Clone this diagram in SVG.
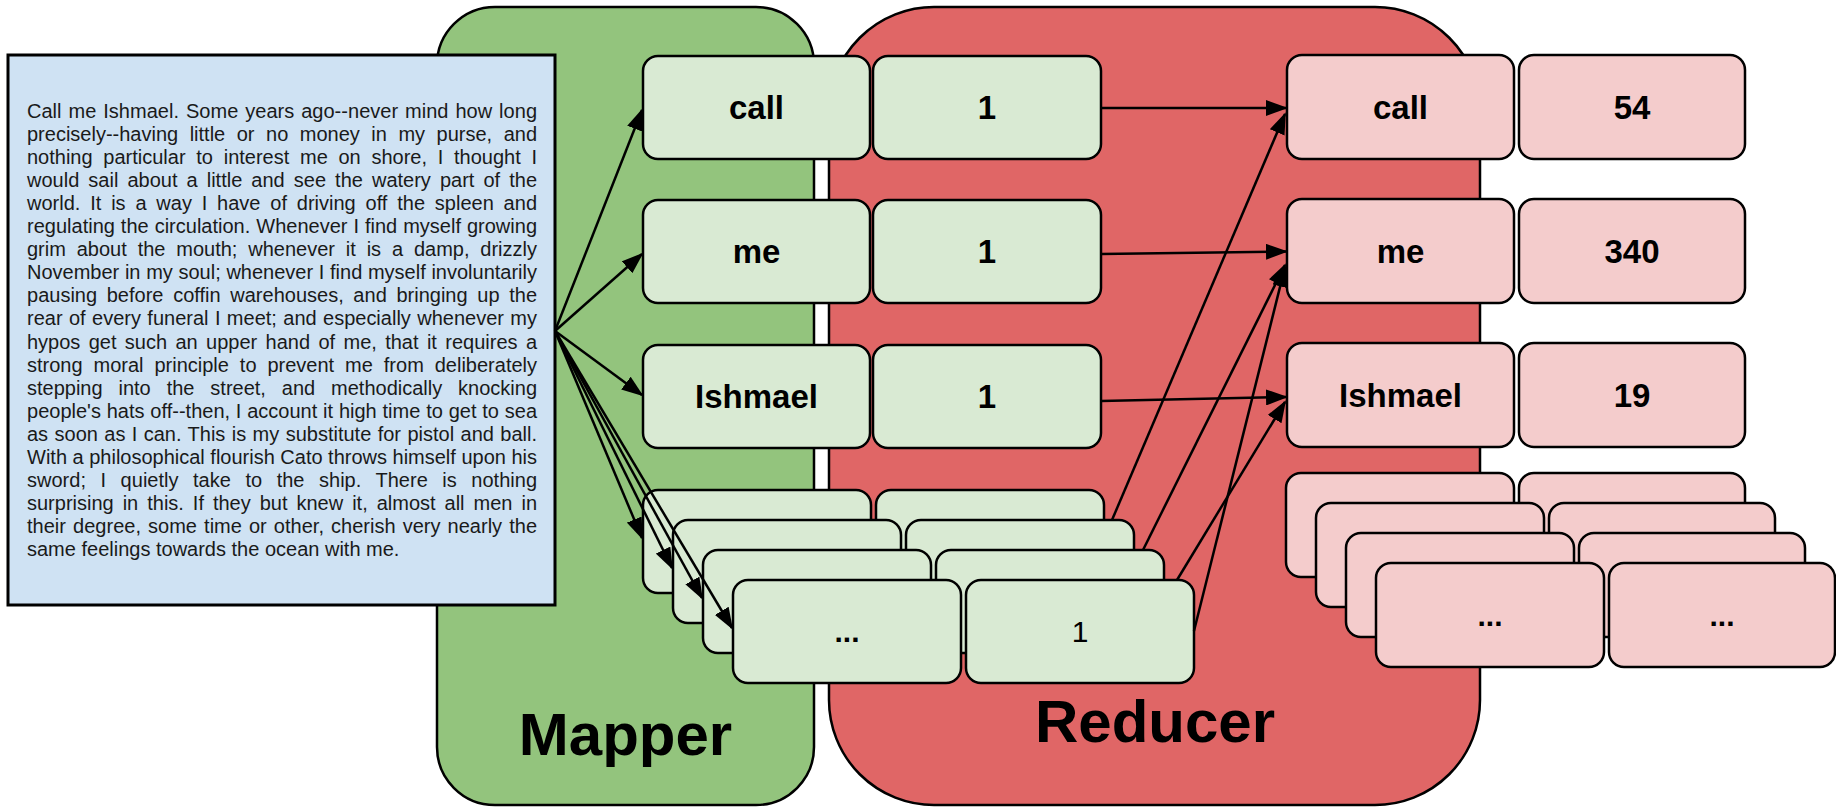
<svg xmlns="http://www.w3.org/2000/svg" width="1836" height="808" viewBox="0 0 1836 808">
<defs>
<style>
.cont{stroke:#000;stroke-width:2.5}
.g{fill:#d9ead3;stroke:#000;stroke-width:2.5}
.p{fill:#f4cccc;stroke:#000;stroke-width:2.5}
.k{font-family:"Liberation Sans",Arial,sans-serif;font-weight:bold;font-size:33px;fill:#000;text-anchor:middle}
.s{font-family:"Liberation Sans",Arial,sans-serif;font-size:30px;fill:#000;text-anchor:middle}
.sb{font-family:"Liberation Sans",Arial,sans-serif;font-weight:bold;font-size:30px;fill:#000;text-anchor:middle}
.big{font-family:"Liberation Sans",Arial,sans-serif;font-weight:bold;font-size:60px;fill:#000;text-anchor:middle}
.t{font-family:"Liberation Sans",Arial,sans-serif;font-size:20px;fill:#1a1a1a}
.c{stroke:#000;stroke-width:2.5;fill:none;marker-end:url(#ah)}
</style>
<marker id="ah" markerUnits="userSpaceOnUse" markerWidth="22" markerHeight="16" refX="20" refY="8" orient="auto">
<path d="M0,0 L22,8 L0,16 z" fill="#000"/>
</marker>
</defs>
<rect width="1836" height="808" fill="#fff"/>

<g id="mapper">
<rect class="cont" x="437" y="7" width="377" height="798" rx="58" fill="#93c47d"/>
<text class="big" x="625.5" y="755">Mapper</text>
</g>
<g id="reducer">
<rect class="cont" x="829" y="7" width="651" height="798" rx="105" fill="#e06666"/>
<text class="big" x="1155" y="742">Reducer</text>
</g>

<g id="input-text">
<rect x="8" y="55" width="547" height="550" fill="#cfe2f3" stroke="#000" stroke-width="3"/>
<text class="t" x="27" y="118" word-spacing="1.34" textLength="510" lengthAdjust="spacing">Call me Ishmael. Some years ago--never mind how long</text>
<text class="t" x="27" y="141.05" word-spacing="5.95" textLength="510" lengthAdjust="spacing">precisely--having little or no money in my purse, and</text>
<text class="t" x="27" y="164.1" word-spacing="5.16" textLength="510" lengthAdjust="spacing">nothing particular to interest me on shore, I thought I</text>
<text class="t" x="27" y="187.15" word-spacing="3.51" textLength="510" lengthAdjust="spacing">would sail about a little and see the watery part of the</text>
<text class="t" x="27" y="210.2" word-spacing="4.24" textLength="510" lengthAdjust="spacing">world. It is a way I have of driving off the spleen and</text>
<text class="t" x="27" y="233.25" word-spacing="0.39" textLength="510" lengthAdjust="spacing">regulating the circulation. Whenever I find myself growing</text>
<text class="t" x="27" y="256.3" word-spacing="5.29" textLength="510" lengthAdjust="spacing">grim about the mouth; whenever it is a damp, drizzly</text>
<text class="t" x="27" y="279.35" word-spacing="0.12" textLength="510" lengthAdjust="spacing">November in my soul; whenever I find myself involuntarily</text>
<text class="t" x="27" y="302.4" word-spacing="4.09" textLength="510" lengthAdjust="spacing">pausing before coffin warehouses, and bringing up the</text>
<text class="t" x="27" y="325.45" word-spacing="0.84" textLength="510" lengthAdjust="spacing">rear of every funeral I meet; and especially whenever my</text>
<text class="t" x="27" y="348.5" word-spacing="2.8" textLength="510" lengthAdjust="spacing">hypos get such an upper hand of me, that it requires a</text>
<text class="t" x="27" y="371.55" word-spacing="5.37" textLength="510" lengthAdjust="spacing">strong moral principle to prevent me from deliberately</text>
<text class="t" x="27" y="394.6" word-spacing="10.34" textLength="510" lengthAdjust="spacing">stepping into the street, and methodically knocking</text>
<text class="t" x="27" y="417.65" word-spacing="0.23" textLength="510" lengthAdjust="spacing">people's hats off--then, I account it high time to get to sea</text>
<text class="t" x="27" y="440.7" word-spacing="0.82" textLength="510" lengthAdjust="spacing">as soon as I can. This is my substitute for pistol and ball.</text>
<text class="t" x="27" y="463.75" word-spacing="0" textLength="510" lengthAdjust="spacing">With a philosophical flourish Cato throws himself upon his</text>
<text class="t" x="27" y="486.8" word-spacing="8.99" textLength="510" lengthAdjust="spacing">sword; I quietly take to the ship. There is nothing</text>
<text class="t" x="27" y="509.85" word-spacing="3.42" textLength="510" lengthAdjust="spacing">surprising in this. If they but knew it, almost all men in</text>
<text class="t" x="27" y="532.9" word-spacing="1.46" textLength="510" lengthAdjust="spacing">their degree, some time or other, cherish very nearly the</text>
<text class="t" x="27" y="555.95">same feelings towards the ocean with me.</text>
</g>

<g id="map-call">
<rect class="g" x="643" y="56" width="227" height="103" rx="15"/>
<text class="k" x="756.5" y="119">call</text>
<rect class="g" x="873" y="56" width="228" height="103" rx="15"/>
<text class="k" x="987" y="119">1</text>
</g>
<g id="map-me">
<rect class="g" x="643" y="200" width="227" height="103" rx="15"/>
<text class="k" x="756.5" y="263">me</text>
<rect class="g" x="873" y="200" width="228" height="103" rx="15"/>
<text class="k" x="987" y="263">1</text>
</g>
<g id="map-ishmael">
<rect class="g" x="643" y="345" width="227" height="103" rx="15"/>
<text class="k" x="756.5" y="408">Ishmael</text>
<rect class="g" x="873" y="345" width="228" height="103" rx="15"/>
<text class="k" x="987" y="408">1</text>
</g>
<g id="map-more">
<rect class="g" x="643" y="490" width="228" height="103" rx="15"/>
<rect class="g" x="876" y="490" width="228" height="103" rx="15"/>
<rect class="g" x="673" y="520" width="228" height="103" rx="15"/>
<rect class="g" x="906" y="520" width="228" height="103" rx="15"/>
<rect class="g" x="703" y="550" width="228" height="103" rx="15"/>
<rect class="g" x="936" y="550" width="228" height="103" rx="15"/>
<rect class="g" x="733" y="580" width="228" height="103" rx="15"/>
<rect class="g" x="966" y="580" width="228" height="103" rx="15"/>
<text class="sb" x="847" y="642">...</text>
<text class="s" x="1080" y="642">1</text>
</g>

<g id="red-call">
<rect class="p" x="1287" y="55" width="227" height="104" rx="15"/>
<text class="k" x="1400.5" y="119">call</text>
<rect class="p" x="1519" y="55" width="226" height="104" rx="15"/>
<text class="k" x="1632" y="119">54</text>
</g>
<g id="red-me">
<rect class="p" x="1287" y="199" width="227" height="104" rx="15"/>
<text class="k" x="1400.5" y="263">me</text>
<rect class="p" x="1519" y="199" width="226" height="104" rx="15"/>
<text class="k" x="1632" y="263">340</text>
</g>
<g id="red-ishmael">
<rect class="p" x="1287" y="343" width="227" height="104" rx="15"/>
<text class="k" x="1400.5" y="407">Ishmael</text>
<rect class="p" x="1519" y="343" width="226" height="104" rx="15"/>
<text class="k" x="1632" y="407">19</text>
</g>
<g id="red-more">
<rect class="p" x="1286" y="473" width="228" height="104" rx="15"/>
<rect class="p" x="1519" y="473" width="226" height="104" rx="15"/>
<rect class="p" x="1316" y="503" width="228" height="104" rx="15"/>
<rect class="p" x="1549" y="503" width="226" height="104" rx="15"/>
<rect class="p" x="1346" y="533" width="228" height="104" rx="15"/>
<rect class="p" x="1579" y="533" width="226" height="104" rx="15"/>
<rect class="p" x="1376" y="563" width="228" height="104" rx="15"/>
<rect class="p" x="1609" y="563" width="226" height="104" rx="15"/>
<text class="sb" x="1490" y="626">...</text>
<text class="sb" x="1722" y="626">...</text>
</g>

<g id="connectors">
<line class="c" x1="555" y1="331" x2="642" y2="110"/>
<line class="c" x1="555" y1="331" x2="642" y2="254"/>
<line class="c" x1="555" y1="331" x2="642" y2="395"/>
<line class="c" x1="555" y1="331" x2="642" y2="538"/>
<line class="c" x1="555" y1="331" x2="672" y2="568"/>
<line class="c" x1="555" y1="331" x2="702" y2="598"/>
<line class="c" x1="555" y1="331" x2="732" y2="628"/>
<line class="c" x1="1101" y1="108" x2="1286" y2="108"/>
<line class="c" x1="1101" y1="254" x2="1286" y2="251.5"/>
<line class="c" x1="1101" y1="401" x2="1286" y2="397"/>
<line class="c" x1="1112" y1="520" x2="1285" y2="114"/>
<line class="c" x1="1143" y1="550" x2="1285" y2="265"/>
<line class="c" x1="1177" y1="580" x2="1285" y2="402"/>
<line class="c" x1="1194" y1="631" x2="1285" y2="267"/>
</g>
</svg>
